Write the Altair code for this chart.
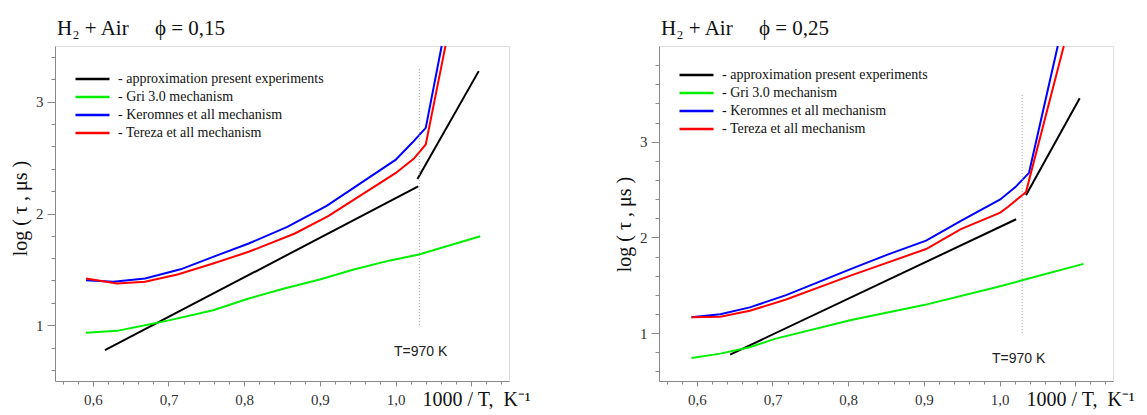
import altair as alt
import pandas as pd

# ---------------- data ----------------
SERIES = ["- approximation present experiments", "- Gri 3.0 mechanism",
          "- Keromnes et all mechanism", "- Tereza et all mechanism"]
COLORS = ["#000000", "#00ee00", "#0000ff", "#ff0000"]

# left panel, phi = 0,15
l_black1_x = [0.616, 1.030]
l_black1_y = [0.776, 2.242]
l_black2_x = [1.029, 1.110]
l_black2_y = [2.310, 3.275]
l_green_x = [0.591, 0.632, 0.674, 0.702, 0.759, 0.806, 0.853, 0.900, 0.946, 0.993, 1.031, 1.112]
l_green_y = [0.931, 0.949, 1.006, 1.045, 1.134, 1.239, 1.328, 1.409, 1.500, 1.580, 1.633, 1.797]
l_blue_x = [0.591, 0.627, 0.669, 0.716, 0.759, 0.806, 0.857, 0.909, 1.000, 1.022, 1.040, 1.061]
l_blue_y = [1.403, 1.388, 1.418, 1.500, 1.612, 1.731, 1.880, 2.069, 2.480, 2.633, 2.767, 3.500]
l_red_x = [0.591, 0.632, 0.669, 0.712, 0.759, 0.806, 0.867, 0.911, 1.000, 1.024, 1.040, 1.066]
l_red_y = [1.418, 1.373, 1.388, 1.454, 1.552, 1.657, 1.821, 1.976, 2.361, 2.490, 2.618, 3.500]

# right panel, phi = 0,25
r_black1_x = [0.644, 1.022]
r_black1_y = [0.776, 2.190]
r_black2_x = [1.035, 1.106]
r_black2_y = [2.440, 3.453]
r_green_x = [0.593, 0.631, 0.670, 0.703, 0.804, 0.900, 0.997, 1.030, 1.111]
r_green_y = [0.741, 0.786, 0.852, 0.940, 1.138, 1.293, 1.483, 1.552, 1.724]
r_blue_x = [0.593, 0.631, 0.670, 0.718, 0.804, 0.852, 0.903, 0.949, 1.001, 1.021, 1.039, 1.077]
r_blue_y = [1.166, 1.197, 1.269, 1.397, 1.672, 1.820, 1.966, 2.172, 2.397, 2.526, 2.675, 4.000]
r_red_x = [0.593, 0.631, 0.670, 0.718, 0.804, 0.903, 0.949, 1.001, 1.011, 1.035, 1.085]
r_red_y = [1.166, 1.172, 1.234, 1.352, 1.603, 1.879, 2.086, 2.259, 2.318, 2.474, 4.000]

# T = 970 K marker
l_marker_x, l_marker_y = [1.0315, 1.0315], [1.0, 3.3]
r_marker_x, r_marker_y = [1.030, 1.030], [1.0, 3.5]
marker_label = "T=970 K"
l_label_xy = (0.998, 0.72)
r_label_xy = (0.990, 0.69)

titles = ["H\u2082 + Air\u00a0\u00a0\u00a0\u00a0\u00a0\u03d5 = 0,15", "H\u2082 + Air\u00a0\u00a0\u00a0\u00a0\u00a0\u03d5 = 0,25"]
y_title = "log ( \u03c4 , \u03bcs )"
x_title = "1000 / T,\u00a0\u00a0K\u207b\u00b9"

# axis ticks: majors every 0.1 (x) / 1 (y), minors every 0.02 (x) / 0.2 (y)
x_ticks = [round(0.56 + 0.02 * i, 2) for i in range(30)]
y_ticks_left = [round(0.6 + 0.2 * i, 1) for i in range(15)]
y_ticks_right = [round(0.6 + 0.2 * i, 1) for i in range(17)]

SERIF = "Liberation Serif"
X_MAJOR = "abs(datum.value * 10 - round(datum.value * 10)) < 0.001"
Y_MAJOR = "abs(datum.value - round(datum.value)) < 0.001"


def lines_df(parts):
    rows = []
    for name, seg, xs, ys in parts:
        for x, y in zip(xs, ys):
            rows.append({"x": x, "y": y, "series": name, "seg": seg})
    return pd.DataFrame(rows)


def panel(parts, ydom, y_ticks, mx, my, lxy, title, legend_y, ytitle_y):
    xs = alt.Scale(domain=[0.55, 1.15], nice=False, zero=False)
    ys = alt.Scale(domain=ydom, nice=False, zero=False)
    x_axis = alt.Axis(values=x_ticks, orient="bottom", grid=False, labelOverlap=False, labelBound=False,
                      labelFlush=False,
                      tickSize={"condition": {"test": X_MAJOR, "value": 5}, "value": 3},
                      labelExpr="(" + X_MAJOR + ") && datum.value < 1.05 ? replace(format(datum.value, '.1f'), '.', ',') : ''",
                      labelFont=SERIF, labelFontSize=15, labelColor="#333", labelPadding=6,
                      title=x_title, titleFont=SERIF, titleFontSize=20, titleFontWeight="normal",
                      titleColor="#111", titleX=367, titleY=24, titleAlign="left",
                      titleBaseline="alphabetic", titleAnchor="start")
    y_axis = alt.Axis(values=y_ticks, orient="left", grid=False, labelOverlap=False, labelBound=False,
                      labelFlush=False,
                      tickSize={"condition": {"test": Y_MAJOR, "value": 8}, "value": 4},
                      labelExpr="(" + Y_MAJOR + ") ? format(datum.value, 'd') : ''",
                      labelFont=SERIF, labelFontSize=15, labelColor="#333", labelPadding=4,
                      title=y_title, titleFont=SERIF, titleFontSize=20, titleFontWeight="normal",
                      titleColor="#111", titleX=-29, titleY=ytitle_y, titleAngle=270,
                      titleAlign="center", titleBaseline="alphabetic")

    df = lines_df(parts)
    lines = alt.Chart(df).mark_line(strokeWidth=2).encode(
        x=alt.X("x:Q", scale=xs, axis=x_axis),
        y=alt.Y("y:Q", scale=ys, axis=y_axis),
        color=alt.Color("series:N", scale=alt.Scale(domain=SERIES, range=COLORS),
                        sort=SERIES,
                        legend=alt.Legend(orient="none", legendX=19, legendY=legend_y, title=None,
                                          symbolType="stroke", symbolSize=1156, symbolStrokeWidth=2.5,
                                          clipHeight=18, rowPadding=0, padding=0, labelOffset=7,
                                          labelFont=SERIF, labelFontSize=14, labelColor="#111",
                                          labelLimit=400)),
        detail="seg:N",
        order=alt.Order("x:Q"),
    )
    rule_df = pd.DataFrame({"x": [mx[0]], "y": [my[0]], "y2": [my[1]]})
    rule = alt.Chart(rule_df).mark_rule(strokeDash=[1, 2], color="#999", strokeWidth=1).encode(
        x=alt.X("x:Q", scale=xs, axis=x_axis),
        y=alt.Y("y:Q", scale=ys, axis=y_axis),
        y2="y2:Q",
    )
    text_df = pd.DataFrame({"x": [lxy[0]], "y": [lxy[1]], "t": [marker_label]})
    text = alt.Chart(text_df).mark_text(align="left", baseline="alphabetic", font="Liberation Sans",
                                        fontSize=14, color="#222").encode(
        x=alt.X("x:Q", scale=xs, axis=x_axis), y=alt.Y("y:Q", scale=ys, axis=y_axis), text="t:N")
    return alt.layer(lines, rule, text).properties(
        width=454, height=335,
        title=alt.TitleParams(text=title, anchor="start", frame="group", font=SERIF, fontSize=21,
                              fontWeight="normal", color="#111", baseline="alphabetic", offset=-14,
                              dx=2),
    )


left_parts = [(SERIES[0], "a", l_black1_x, l_black1_y), (SERIES[0], "b", l_black2_x, l_black2_y),
              (SERIES[1], "c", l_green_x, l_green_y), (SERIES[2], "d", l_blue_x, l_blue_y),
              (SERIES[3], "e", l_red_x, l_red_y)]
right_parts = [(SERIES[0], "a", r_black1_x, r_black1_y), (SERIES[0], "b", r_black2_x, r_black2_y),
               (SERIES[1], "c", r_green_x, r_green_y), (SERIES[2], "d", r_blue_x, r_blue_y),
               (SERIES[3], "e", r_red_x, r_red_y)]

left = panel(left_parts, [0.5, 3.5], y_ticks_left, l_marker_x, l_marker_y, l_label_xy, titles[0], 24, 162)
right = panel(right_parts, [0.5, 4.0], y_ticks_right, r_marker_x, r_marker_y, r_label_xy, titles[1], 20, 178)

chart = alt.hconcat(left, right, spacing=150, bounds="flush").resolve_scale(
    color="independent"
).resolve_legend(color="independent").properties(
    padding={"left": 1, "top": 9, "right": 0, "bottom": 0}
).configure_view(stroke="#444", strokeWidth=1.5).configure_axis(
    domainColor="#444", tickColor="#444", domainWidth=1.5, tickWidth=1.2,
    labelFont=SERIF, labelFontSize=15, labelColor="#333", labelOverlap=False,
    labelBound=False, labelFlush=False
).configure(background="white")

chart.save("out.html", embed_options={"renderer": "svg", "actions": False})
